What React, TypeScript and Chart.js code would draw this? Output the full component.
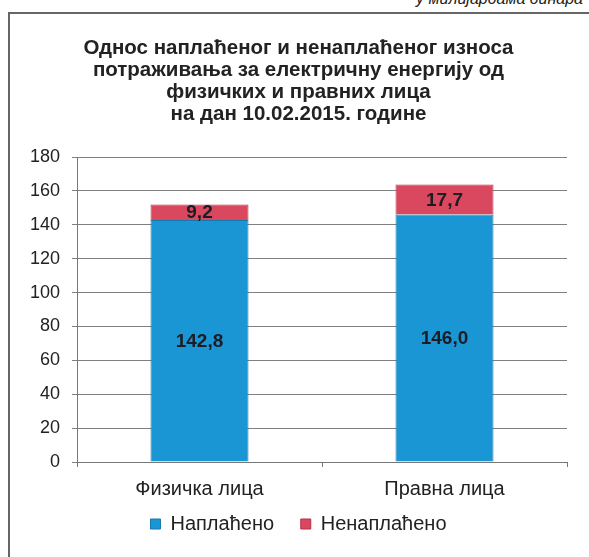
import React, { useEffect, useRef } from "react";
import { Chart, registerables } from "chart.js";

Chart.register(...registerables);

const categories = ["Физичка лица", "Правна лица"];
const collected = [142.8, 146.0];
const uncollected = [9.2, 17.7];
const seriesNames = ["Наплаћено", "Ненаплаћено"];
const titleLines = [
  "Однос наплаћеног и ненаплаћеног износа",
  "потраживања за електричну енергију од",
  "физичких и правних лица",
  "на дан 10.02.2015. године",
];
const unitText = "у милијардама динара";

const FONT = "'Liberation Sans', Arial, sans-serif";

const valueLabels = {
  id: "valueLabels",
  afterDatasetsDraw(chart: any) {
    const ctx = chart.ctx;
    ctx.save();
    ctx.font = `bold 19px ${FONT}`;
    ctx.fillStyle = "#1c1c24";
    ctx.textAlign = "center";
    ctx.textBaseline = "middle";
    chart.data.datasets.forEach((ds: any, di: number) => {
      const meta = chart.getDatasetMeta(di);
      meta.data.forEach((el: any, i: number) => {
        const v = ds.data[i];
        const y = (el.y + el.base) / 2;
        ctx.fillText(v.toFixed(1).replace(".", ","), el.x, y + 1);
      });
    });
    ctx.restore();
  },
};

export default function App() {
  const ref = useRef<HTMLCanvasElement>(null);
  useEffect(() => {
    document.body.style.margin = "0";
    const chart = new Chart(ref.current as HTMLCanvasElement, {
      type: "bar",
      data: {
        labels: categories,
        datasets: [
          {
            label: seriesNames[0],
            data: collected,
            backgroundColor: "#1b96d4",
            borderColor: "#1479b0",
            borderWidth: 1,
            barPercentage: 0.4,
            categoryPercentage: 1,
          },
          {
            label: seriesNames[1],
            data: uncollected,
            backgroundColor: "#d9485e",
            borderColor: "#b53048",
            borderWidth: 1,
            barPercentage: 0.4,
            categoryPercentage: 1,
          },
        ],
      },
      options: {
        responsive: false,
        animation: false,
        devicePixelRatio: 1,
        layout: { padding: { left: 30, right: 22, top: 0, bottom: 13 } },
        plugins: {
          title: {
            display: true,
            text: titleLines,
            color: "#222",
            font: { family: FONT, size: 20.5, weight: "bold", lineHeight: 22 / 20.5 },
            padding: { top: 37, bottom: 32 },
          },
          legend: {
            position: "bottom",
            labels: {
              boxWidth: 10,
              boxHeight: 10,
              color: "#222",
              padding: 10,
              font: { family: FONT, size: 20 },
              generateLabels(chart: any) {
                const items = Chart.defaults.plugins.legend.labels.generateLabels(chart);
                items.forEach((it: any, i: number) => {
                  if (i < items.length - 1) it.text = it.text + "   ";
                });
                return items;
              },
            },
          },
          tooltip: { enabled: false },
        },
        scales: {
          x: {
            stacked: true,
            afterFit(scale: any) {
              scale.height = 42;
            },
            grid: {
              display: true,
              drawOnChartArea: false,
              offset: true,
              tickLength: 5,
              color: "#777",
            },
            border: { color: "#777" },
            ticks: {
              color: "#222",
              padding: 10,
              font: { family: FONT, size: 20 },
            },
          },
          y: {
            stacked: true,
            min: 0,
            max: 180,
            afterFit(scale: any) {
              scale.width = 47;
            },
            grid: { color: "#808080", tickLength: 5 },
            border: { color: "#777" },
            ticks: {
              stepSize: 20,
              color: "#222",
              padding: 12,
              font: { family: FONT, size: 18 },
            },
          },
        },
      },
      plugins: [valueLabels],
    });
    return () => chart.destroy();
  }, []);

  return (
    <div style={{ position: "relative", width: 589, height: 557, overflow: "hidden", background: "#fff" }}>
      <div
        style={{
          position: "absolute",
          right: 6,
          top: -10,
          fontFamily: FONT,
          fontStyle: "italic",
          fontSize: 16,
          color: "#222",
        }}
      >
        {unitText}
      </div>
      <div
        style={{
          position: "absolute",
          left: 8,
          top: 12,
          width: 600,
          height: 600,
          borderLeft: "2px solid #666",
          borderTop: "2px solid #666",
        }}
      />
      <canvas ref={ref} width={589} height={557} style={{ position: "absolute", left: 0, top: 0 }} />
    </div>
  );
}
